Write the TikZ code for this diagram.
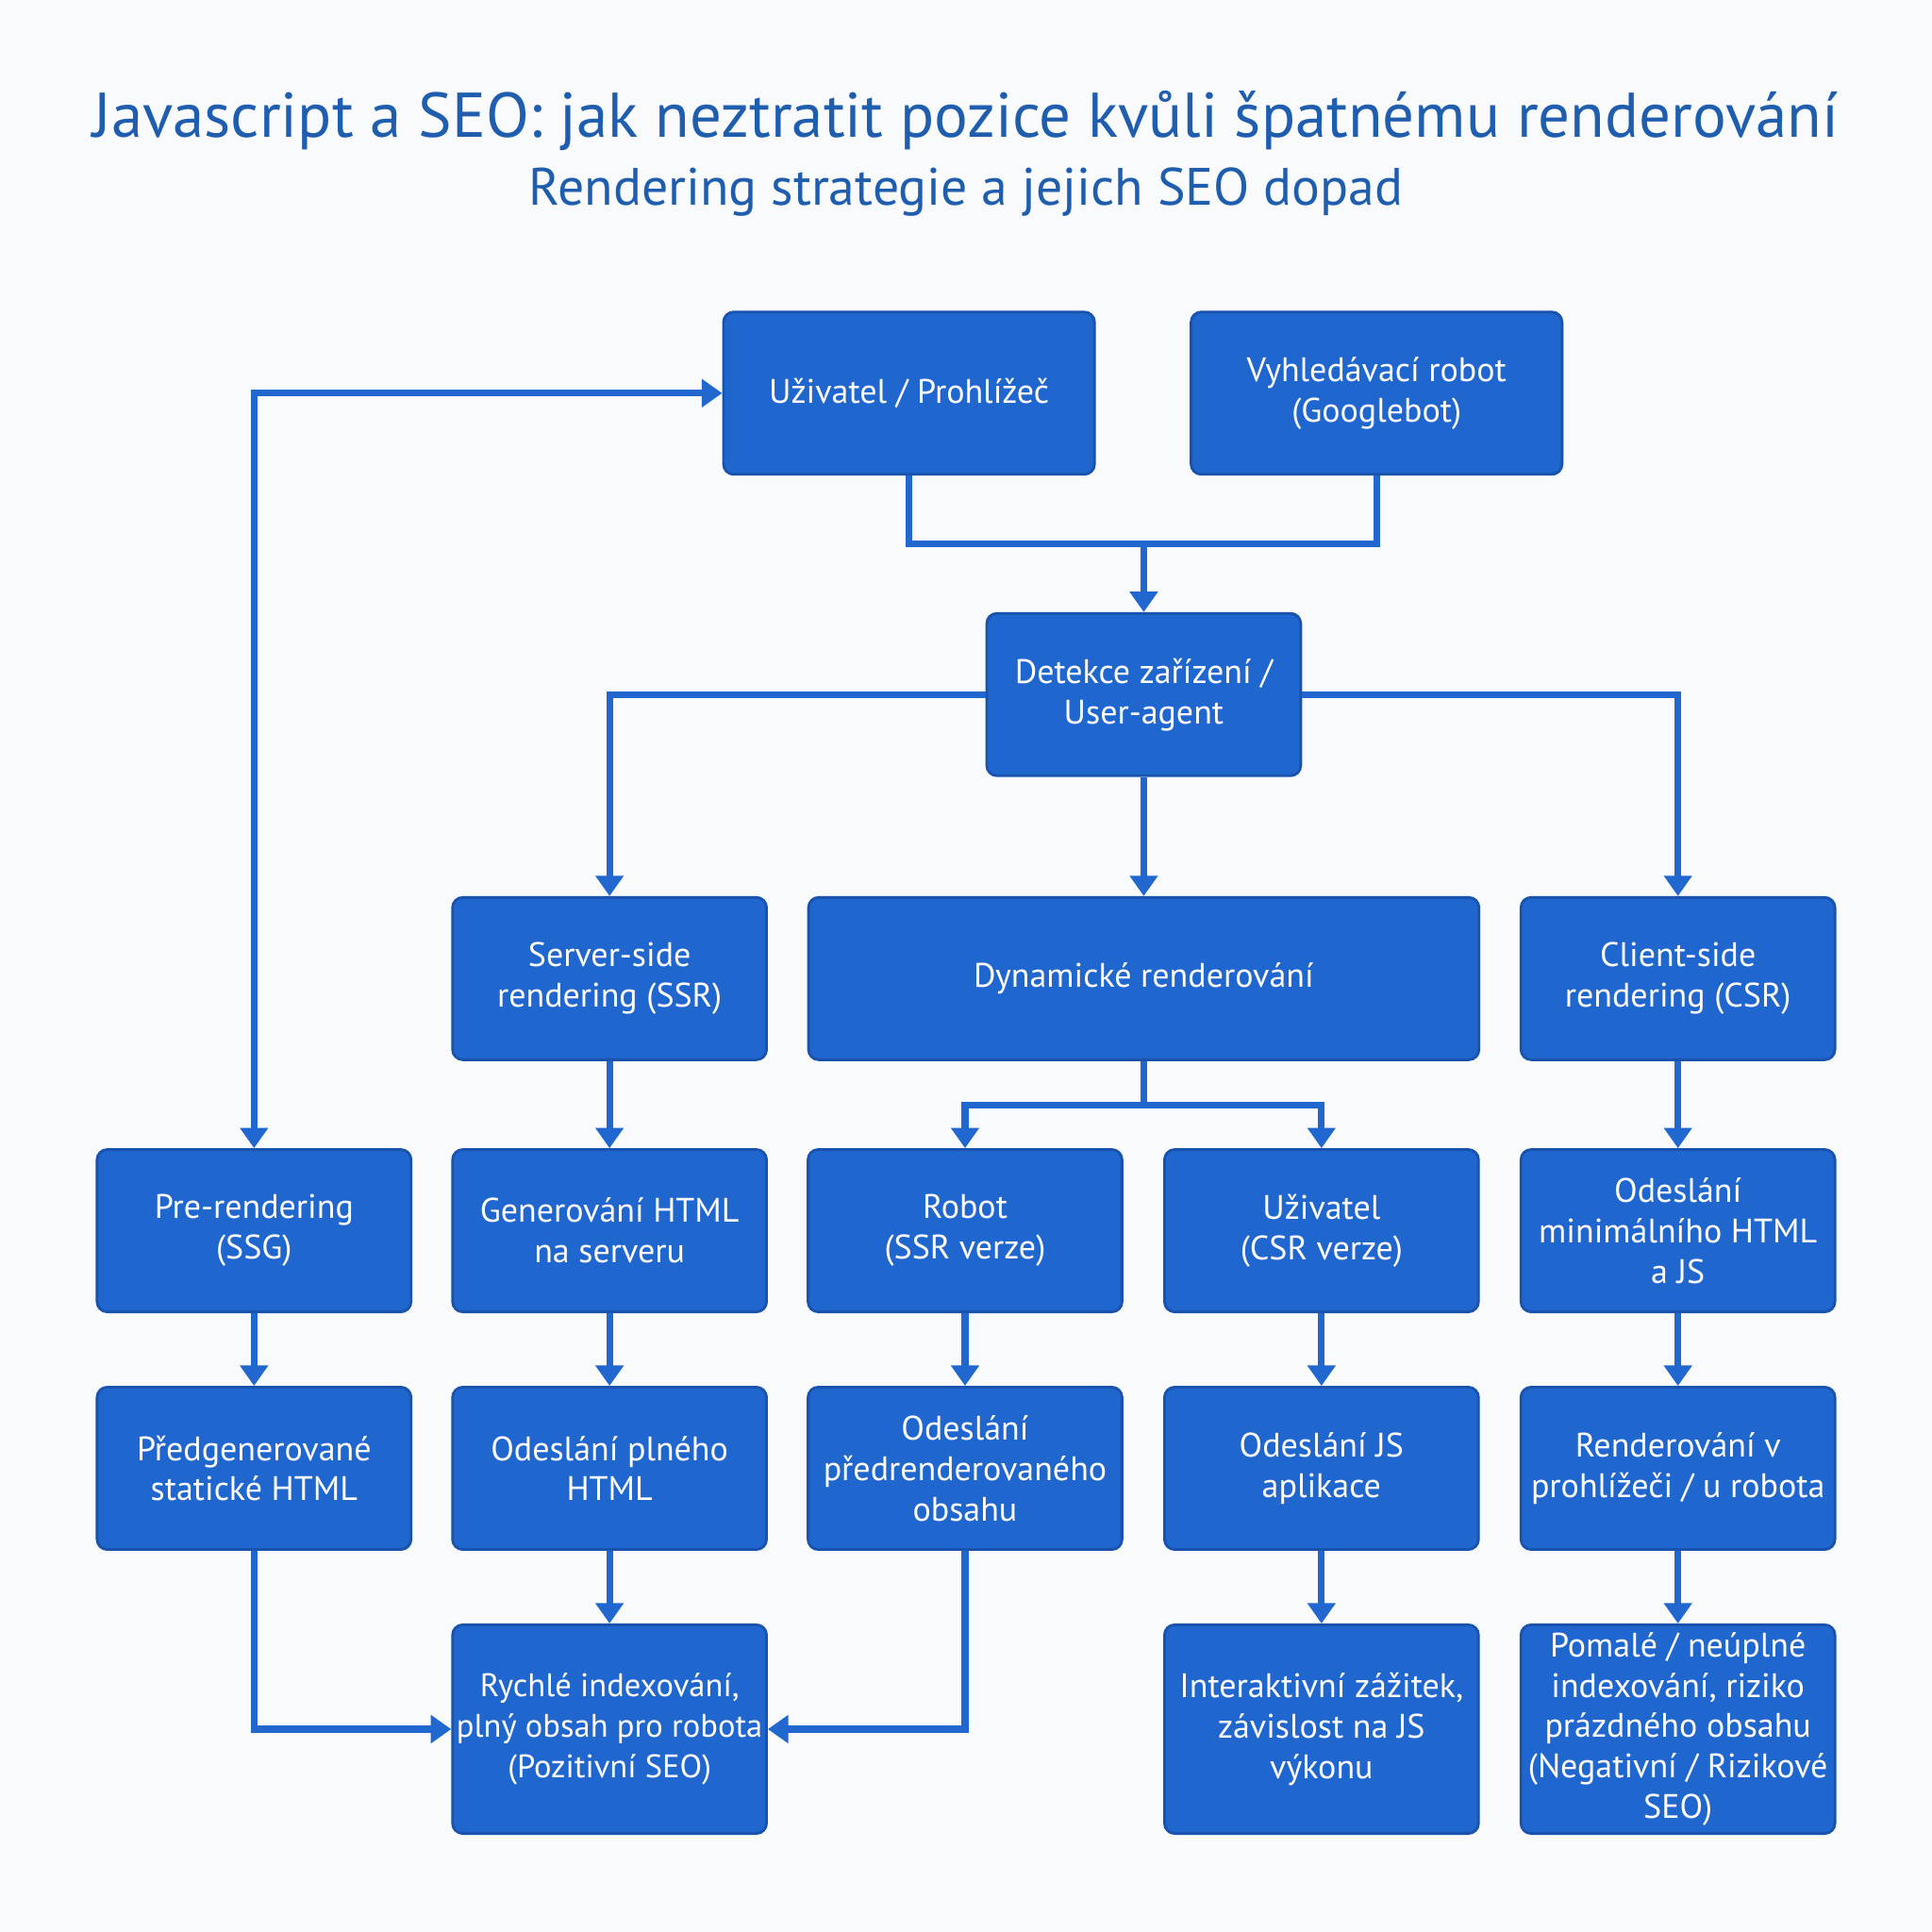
\documentclass[tikz,border=0pt]{standalone}
\usepackage{fontspec}
\setmainfont{PT Sans}
\usepackage{xcolor}
\usetikzlibrary{arrows.meta,calc,positioning}
\definecolor{boxblue}{HTML}{2066CF}
\definecolor{boxedge}{HTML}{1A53AE}
\definecolor{linkblue}{HTML}{2068D0}
\definecolor{titleblue}{HTML}{1F5DAE}
\definecolor{paper}{HTML}{F8FAFC}
\tikzset{
  stepbox/.style={draw=boxedge,fill=boxblue,text=white,rounded corners=3pt,line width=0.8pt,minimum width=3.25cm,minimum height=1.68cm,inner sep=1pt,inner xsep=0pt,align=center,font=\fontsize{10}{11.9}\selectfont},
  topbox/.style={stepbox,minimum width=3.84cm},
  widebox/.style={stepbox,minimum width=6.94cm},
  tallbox/.style={stepbox,minimum height=2.16cm},
  link/.style={line width=2pt,linkblue},
  flow/.style={-{Triangle[width=8pt,length=6pt]},line width=2pt,linkblue},
  bothflow/.style={{Triangle[width=8pt,length=6pt]}-{Triangle[width=8pt,length=6pt]},line width=2pt,linkblue}
}

\begin{document}
\begin{tikzpicture}[y=-1cm]
  \fill[paper] (0,0) rectangle (20,20);
  \useasboundingbox (0,0) rectangle (20,20);
  \node[text=titleblue,font=\fontsize{18.6}{22}\selectfont] (title) at (10,1.25) {Javascript a SEO: jak neztratit pozice kvůli špatnému renderování};
  \node[text=titleblue,font=\fontsize{15.5}{18}\selectfont] (subtitle) at (10,1.99) {Rendering strategie a jejich SEO dopad};
  % top row
  \node[topbox] (user) at (9.41,4.07) {Uživatel / Prohlížeč};
  \node[topbox] (robot) at (14.25,4.07) {Vyhledávací robot\\(Googlebot)};
  \node[stepbox] (detect) at (11.84,7.19) {Detekce zařízení /\\User-agent};
  % strategies
  \node[stepbox] (ssr) at (6.31,10.13) {Server-side\\rendering (SSR)};
  \node[widebox] (dyn) at (11.84,10.13) {Dynamické renderování};
  \node[stepbox] (csr) at (17.37,10.13) {Client-side\\rendering (CSR)};
  % third row
  \node[stepbox] (pre) at (2.63,12.74) {Pre-rendering\\(SSG)};
  \node[stepbox] (genhtml) at (6.31,12.74) {Generování HTML\\na serveru};
  \node[stepbox] (botssr) at (9.99,12.74) {Robot\\(SSR verze)};
  \node[stepbox] (usercsr) at (13.68,12.74) {Uživatel\\(CSR verze)};
  \node[stepbox] (minimal) at (17.37,12.74) {Odeslání\\minimálního HTML\\a JS};
  % fourth row
  \node[stepbox] (static) at (2.63,15.20) {Předgenerované\\statické HTML};
  \node[stepbox] (fullhtml) at (6.31,15.20) {Odeslání plného\\HTML};
  \node[stepbox] (prerendered) at (9.99,15.20) {Odeslání\\předrenderovaného\\obsahu};
  \node[stepbox] (sendjs) at (13.68,15.20) {Odeslání JS\\aplikace};
  \node[stepbox] (inbrowser) at (17.37,15.20) {Renderování v\\prohlížeči / u robota};
  % outcomes
  \node[tallbox,font=\fontsize{9.6}{11.9}\selectfont] (fast) at (6.31,17.90) {Rychlé indexování,\\plný obsah pro robota\\(Pozitivní SEO)};
  \node[tallbox] (interactive) at (13.68,17.90) {Interaktivní zážitek,\\závislost na JS\\výkonu};
  \node[tallbox] (slow) at (17.37,17.90) {Pomalé / neúplné\\indexování, riziko\\prázdného obsahu\\(Negativní / Rizikové\\SEO)};
  % connectors
  \coordinate (join) at (11.84,5.63);
  \coordinate (split) at (11.84,11.44);
  \draw[link] (user.south) |- (join) -| (robot.south);
  \draw[flow] (join) -- (detect);
  \draw[flow] (detect.west) -| (ssr);
  \draw[flow] (detect) -- (dyn);
  \draw[flow] (detect.east) -| (csr);
  \draw[bothflow] (pre) |- (user);
  \draw[link] (dyn) -- (split);
  \draw[flow] (split) -| (botssr);
  \draw[flow] (split) -| (usercsr);
  \draw[flow] (ssr) -- (genhtml);
  \draw[flow] (csr) -- (minimal);
  \draw[flow] (pre) -- (static);
  \draw[flow] (genhtml) -- (fullhtml);
  \draw[flow] (botssr) -- (prerendered);
  \draw[flow] (usercsr) -- (sendjs);
  \draw[flow] (minimal) -- (inbrowser);
  \draw[flow] (fullhtml) -- (fast);
  \draw[flow] (sendjs) -- (interactive);
  \draw[flow] (inbrowser) -- (slow);
  \draw[flow] (static) |- (fast);
  \draw[flow] (prerendered) |- (fast);
\end{tikzpicture}
\end{document}
